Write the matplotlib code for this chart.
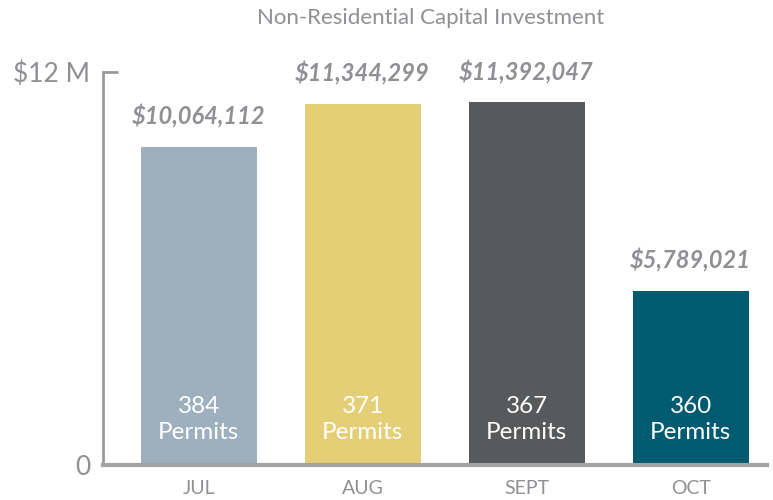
import matplotlib
matplotlib.use("Agg")
import matplotlib.pyplot as plt

months = ["JUL", "AUG", "SEPT", "OCT"]
investment = [10064112, 11344299, 11392047, 5789021]
permits = [384, 371, 367, 360]
colors = ["#9eb0bd", "#e5cf76", "#58595b", "#005a70"]

plt.rcParams["font.family"] = ["Lato", "DejaVu Sans"]
gray = "#8f9093"

fig = plt.figure(figsize=(7.73, 5), dpi=100)
ax = fig.add_axes([0.1332, 0.07, 0.859, 0.786])

vals = [v / 1e6 for v in investment]
x = range(len(months))
ax.bar(x, vals, width=0.707, color=colors, zorder=2)

# axis floor sits a little above zero, as in the original graphic
ax.set_xlim(-0.583, 3.465)
ax.set_ylim(0.62, 12.29)
ax.set_yticks([0.62, 12.29])
ax.set_yticklabels(["0", "$12 M"], fontsize=19, color=gray)
ax.tick_params(axis="y", direction="in", length=11, width=2, color="#9a9a9c", pad=9)
ax.set_xticks(list(x))
ax.set_xticklabels(months, fontsize=14, color=gray)
ax.tick_params(axis="x", length=0, pad=11)

for s in ["top", "right"]:
    ax.spines[s].set_visible(False)
ax.spines["left"].set_color("#9a9a9c")
ax.spines["left"].set_linewidth(2)
ax.spines["bottom"].set_color("#a3a3a5")
ax.spines["bottom"].set_linewidth(3)
ax.spines["bottom"].set_zorder(3)

for i, v in enumerate(vals):
    ax.annotate(f"${investment[i]:,}", (i, v), xytext=(0, 13), textcoords="offset points",
                ha="center", va="bottom", fontsize=17, fontweight="bold", fontstyle="italic",
                color=gray)
    ax.text(i, 1.98, f"{permits[i]}\nPermits", ha="center", va="center", fontsize=17.5,
            color="white", linespacing=1.3, zorder=3)

fig.text(431 / 773, 1 - 18 / 500, "Non-Residential Capital Investment",
         ha="center", va="center", fontsize=16, color=gray)

fig.savefig("out.png", dpi=100)
